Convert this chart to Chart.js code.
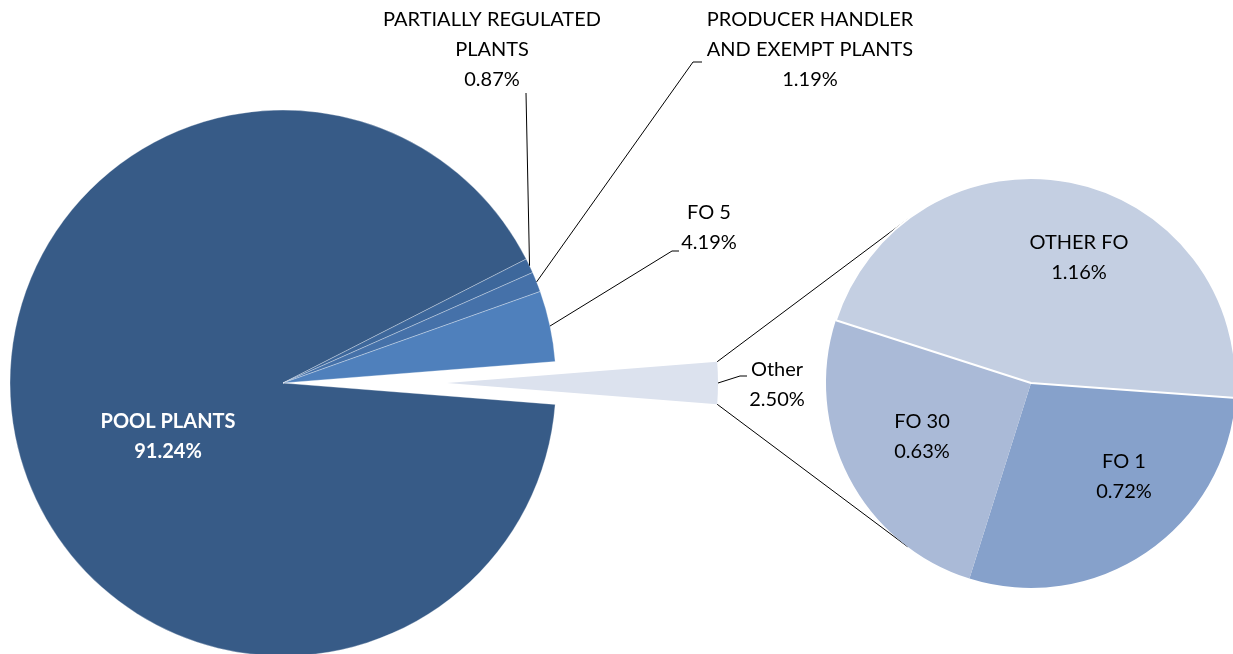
<!DOCTYPE html>
<html>
<head>
<meta charset="utf-8">
<title>Pie of pie</title>
<script src="https://cdn.jsdelivr.net/npm/chart.js@4.4.0/dist/chart.umd.min.js"></script>
<style>
  html, body { margin: 0; padding: 0; background: #fff; overflow: hidden; }
  #wrap { position: relative; width: 1233px; height: 654px; }
  canvas { position: absolute; left: 0; top: 0; }
</style>
</head>
<body>
<div id="wrap">
  <canvas id="mainChart" width="1233" height="654"></canvas>
  <canvas id="splitChart" width="1233" height="654"></canvas>
  <canvas id="subChart" width="1233" height="654"></canvas>
</div>
<script>
// main pie
const mainCategories = [["POOL PLANTS"], ["PARTIALLY REGULATED", "PLANTS"], ["PRODUCER HANDLER", "AND EXEMPT PLANTS"], ["FO 5"], ["Other"]];
const mainValues = [91.24, 0.87, 1.19, 4.19, 2.50];
// secondary pie (split of "Other")
const subCategories = [["FO 1"], ["FO 30"], ["OTHER FO"]];
const subValues = [0.72, 0.63, 1.16];

const OTHER = 4;
const FONT = '"Lato", "Liberation Sans", sans-serif';
const FONT_SIZE = 20;
const LINE_H = 30;

// label placement (centre of first text line) and leader line bends
const mainLabelPos = [
    { x: 168, y: 422, color: "#fff", bold: true },
    { x: 492, y: 20, leader: [[526, 93]] },
    { x: 810, y: 20, leader: [[693, 62], [702, 62]] },
    { x: 709, y: 213, leader: [[672, 251], [679, 251]] },
    { x: 777, y: 370, leader: [[740, 376], [747, 376]] }
];
const subLabelPos = [
    { x: 1124, y: 462 },
    { x: 922, y: 422 },
    { x: 1079, y: 243 }
];

function fmt(v) {
    return v.toFixed(2) + "%";
}

function arcProps(arc) {
    return arc.getProps(["x", "y", "startAngle", "endAngle", "outerRadius"], true);
}

function drawLabels(chart, positions, cats, vals, arcFor) {
    const ctx = chart.ctx;
    const arcs = chart.getDatasetMeta(0).data;
    ctx.save();
    arcs.forEach((arc, i) => {
        const pos = positions[i];
        const p = arcProps(arcFor ? arcFor(i, arc) : arc);
        const mid = (p.startAngle + p.endAngle) / 2;
        if (pos.leader) {
            ctx.beginPath();
            ctx.moveTo(p.x + Math.cos(mid) * p.outerRadius, p.y + Math.sin(mid) * p.outerRadius);
            pos.leader.forEach(pt => ctx.lineTo(pt[0], pt[1]));
            ctx.strokeStyle = "#000";
            ctx.lineWidth = 1;
            ctx.stroke();
        }
        const lines = cats[i].concat([fmt(vals[i])]);
        ctx.font = (pos.bold ? "bold " : "") + FONT_SIZE + "px " + FONT;
        ctx.fillStyle = pos.color || "#000";
        ctx.textAlign = "center";
        ctx.textBaseline = "middle";
        lines.forEach((t, k) => ctx.fillText(t, pos.x, pos.y + k * LINE_H));
    });
    ctx.restore();
}

const baseOptions = {
    responsive: false,
    animation: false,
    events: [],
    plugins: { legend: { display: false }, tooltip: { enabled: false } }
};

const subChart = new Chart(document.getElementById("subChart"), {
    type: "pie",
    data: {
        labels: subCategories,
        datasets: [{
            data: subValues,
            backgroundColor: ["#86A1CB", "#AABAD7", "#C4CFE2"],
            borderColor: "#fff",
            borderWidth: [0, 0, 2],
            radius: 205
        }]
    },
    options: Object.assign({}, baseOptions, {
        rotation: 94.2,
        layout: { padding: { left: 831, right: 2, top: 112, bottom: 0 } }
    }),
    plugins: [{
        id: "subLabels",
        afterDatasetsDraw(chart) {
            drawLabels(chart, subLabelPos, subCategories, subValues);
        }
    }]
});

// the "Other" slice pulled out of the main pie, same angle, moved right
const restTotal = mainValues.reduce((a, b) => a + b, 0) - mainValues[OTHER];
const splitChart = new Chart(document.getElementById("splitChart"), {
    type: "pie",
    data: {
        labels: ["Other", ""],
        datasets: [{
            data: [mainValues[OTHER], restTotal],
            backgroundColor: ["#DCE2EE", "rgba(0,0,0,0)"],
            borderWidth: 0,
            radius: 271
        }]
    },
    options: Object.assign({}, baseOptions, {
        rotation: 90 - 180 * mainValues[OTHER] / (restTotal + mainValues[OTHER]),
        layout: { padding: { left: 0, right: 339, top: 112, bottom: 0 } }
    })
});

new Chart(document.getElementById("mainChart"), {
    type: "pie",
    data: {
        labels: mainCategories,
        datasets: [{
            data: mainValues,
            backgroundColor: ["#375B87", "#3D679B", "#4571A9", "#4F80BC", "rgba(0,0,0,0)"],
            borderColor: ["rgba(255,255,255,0.3)", "rgba(255,255,255,0.3)", "rgba(255,255,255,0.3)", "rgba(255,255,255,0.3)", "rgba(0,0,0,0)"],
            borderWidth: 1,
            radius: 273
        }]
    },
    options: Object.assign({}, baseOptions, {
        rotation: 94.5,
        layout: { padding: { left: 0, right: 667, top: 112, bottom: 0 } }
    }),
    plugins: [{
        id: "mainLabels",
        afterDatasetsDraw(chart) {
            const ctx = chart.ctx;
            // connector lines from the pulled-out slice to the secondary pie
            const p = arcProps(splitChart.getDatasetMeta(0).data[0]);
            const s = arcProps(subChart.getDatasetMeta(0).data[0]);
            const joinAngle = 127 * Math.PI / 180;
            ctx.save();
            ctx.strokeStyle = "#000";
            ctx.lineWidth = 1;
            ctx.beginPath();
            ctx.moveTo(p.x + Math.cos(p.startAngle) * p.outerRadius, p.y + Math.sin(p.startAngle) * p.outerRadius);
            ctx.lineTo(s.x + Math.cos(-joinAngle) * s.outerRadius, s.y + Math.sin(-joinAngle) * s.outerRadius);
            ctx.moveTo(p.x + Math.cos(p.endAngle) * p.outerRadius, p.y + Math.sin(p.endAngle) * p.outerRadius);
            ctx.lineTo(s.x + Math.cos(joinAngle) * s.outerRadius, s.y + Math.sin(joinAngle) * s.outerRadius);
            ctx.stroke();
            ctx.restore();
            drawLabels(chart, mainLabelPos, mainCategories, mainValues,
                (i, arc) => i === OTHER ? splitChart.getDatasetMeta(0).data[0] : arc);
        }
    }]
});
</script>
</body>
</html>
